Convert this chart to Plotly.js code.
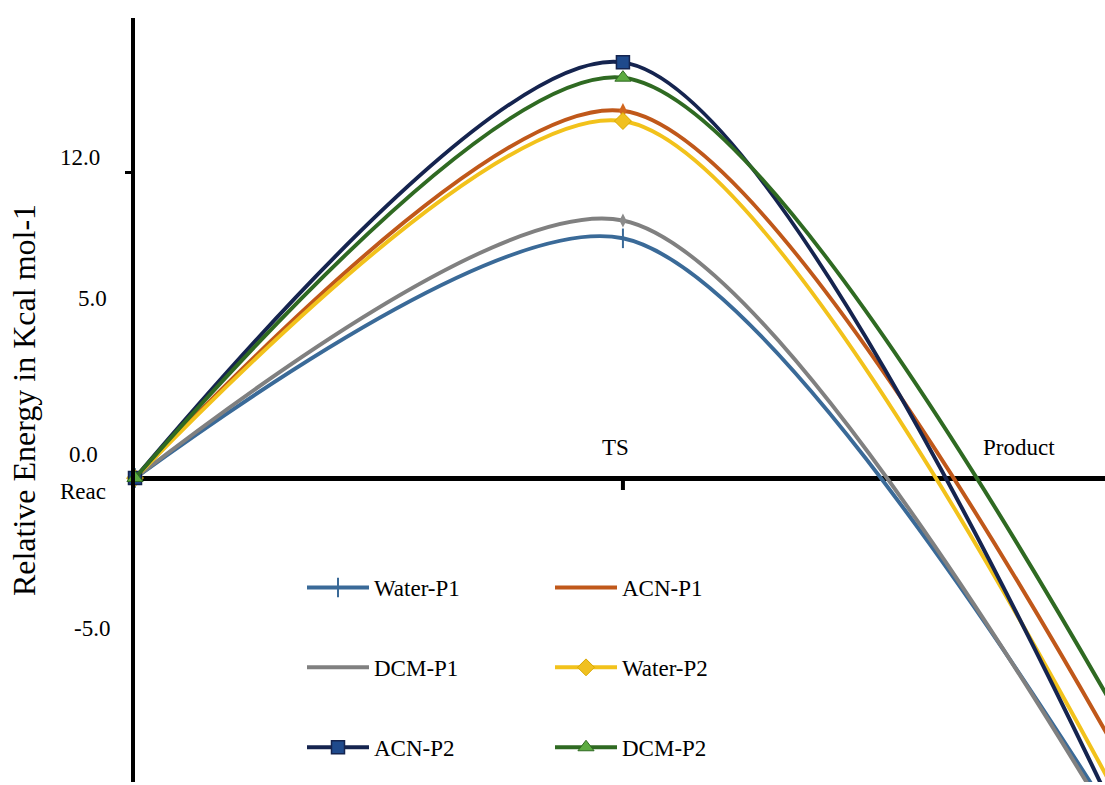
<!DOCTYPE html>
<html>
<head>
<meta charset="utf-8">
<script src="https://cdn.plot.ly/plotly-3.0.1.min.js"></script>
<style>html,body{margin:0;padding:0;background:#fff;}#chart{width:1105px;height:785px;}</style>
</head>
<body>
<div id="chart"></div>
<script>
// Reaction coordinate stages
const stages = ['Reac', 'TS', 'Product'];
const stageX = [0, 1, 2];

// Relative energies (Kcal mol-1)
const waterP1 = [0, 9.4, -13.2];
const acnP1   = [0, 14.4, -10.3];
const dcmP1   = [0, 10.1, -13.5];
const waterP2 = [0, 14.0, -12.0];
const acnP2   = [0, 16.3, -12.8];
const dcmP2   = [0, 15.7, -8.8];

// Y tick labels
const yTickLabels = ['12.0', '5.0', '0.0', '-5.0'];

const FONT = 'Liberation Serif';
const W = 1105, H = 785;
const M = {l: 135, r: 0, t: 18, b: 3};
const PW = W - M.l - M.r, PH = H - M.t - M.b;
const px2x = p => (p - M.l) / PW;
const px2y = p => (H - M.b - p) / PH;

const SM = 0.8;
function lineTrace(name, y, color, legend, mode, marker) {
  const t = {
    type: 'scatter', x: stageX, y: y, name: name, mode: mode,
    line: {color: color, width: 4, shape: 'spline', smoothing: SM},
    legend: legend, legendgroup: name, cliponaxis: false,
    hovertext: stages
  };
  if (marker) t.marker = marker;
  return t;
}
function markerTrace(name, y, marker) {
  return {type: 'scatter', x: stageX, y: y, name: name, mode: 'markers',
    marker: marker, showlegend: false, legendgroup: name, cliponaxis: false, hovertext: stages};
}

const traces = [
  lineTrace('Water-P1', waterP1, '#3a6a98', 'legend', 'lines+markers',
    {symbol: 'line-ns-open', size: 14, color: '#3a6a98', line: {width: 2, color: '#3a6a98'}}),
  lineTrace('ACN-P1', acnP1, '#c0581a', 'legend2', 'lines'),
  markerTrace('ACN-P1', acnP1, {symbol: 'diamond-tall', size: 11, color: '#d2661e'}),
  lineTrace('DCM-P1', dcmP1, '#808080', 'legend', 'lines'),
  markerTrace('DCM-P1', dcmP1, {symbol: 'diamond-tall', size: 10, color: '#8a8a8a'}),
  lineTrace('Water-P2', waterP2, '#f2c21b', 'legend2', 'lines+markers',
    {symbol: 'diamond', size: 13, color: '#f0c020', line: {width: 1, color: '#d9a800'}}),
  lineTrace('ACN-P2', acnP2, '#15244f', 'legend', 'lines+markers',
    {symbol: 'square', size: 13, color: '#1f4a8c', line: {width: 1.5, color: '#15244f'}}),
  lineTrace('DCM-P2', dcmP2, '#2f6a22', 'legend2', 'lines+markers',
    {symbol: 'triangle-up', size: 14, color: '#5cab40', line: {width: 1, color: '#2f6a22'}})
];

const labelPos = [[80, 157], [92, 298], [83, 455], [92, 628]];
const annotations = yTickLabels.map((t, i) => ({
  text: t, xref: 'paper', yref: 'paper', x: px2x(labelPos[i][0]), y: px2y(labelPos[i][1]),
  xanchor: 'center', yanchor: 'middle', showarrow: false, font: {family: FONT, size: 23, color: '#000'}
}));
const stagePos = [[83, 492], [615, 447], [1019, 447]];
stages.forEach((s, i) => annotations.push({
  text: s, xref: 'paper', yref: 'paper', x: px2x(stagePos[i][0]), y: px2y(stagePos[i][1]),
  xanchor: 'center', yanchor: 'middle', showarrow: false, font: {family: FONT, size: 23, color: '#000'}
}));

const legendCommon = {
  orientation: 'v', bgcolor: 'rgba(0,0,0,0)', borderwidth: 0,
  font: {family: FONT, size: 23, color: '#000'}, tracegroupgap: 47,
  xanchor: 'left', yanchor: 'top', itemwidth: 62, traceorder: 'grouped'
};

const layout = {
  width: W, height: H,
  margin: M,
  paper_bgcolor: '#fff', plot_bgcolor: '#fff',
  font: {family: FONT, size: 23, color: '#000'},
  showlegend: true,
  legend: Object.assign({}, legendCommon, {x: px2x(302), y: px2y(566)}),
  legend2: Object.assign({}, legendCommon, {x: px2x(550), y: px2y(566)}),
  xaxis: {
    range: [0, 1.988], showgrid: false, zeroline: false, showline: false,
    showticklabels: false, ticks: ''
  },
  yaxis: {
    range: [-11.92, 18.04], showgrid: false,
    zeroline: true, zerolinecolor: '#000', zerolinewidth: 5,
    showline: true, linecolor: '#000', linewidth: 4,
    ticks: 'outside', tickvals: [12], ticklen: 6, tickwidth: 3, tickcolor: '#000',
    showticklabels: false,
    title: {text: 'Relative Energy in Kcal mol-1', font: {family: FONT, size: 32, color: '#000'}, standoff: 81}
  },
  shapes: [{
    type: 'line', xref: 'x', x0: 1, x1: 1, yref: 'y', ysizemode: 'pixel', yanchor: 0,
    y0: 0, y1: -12, line: {color: '#000', width: 4}
  }],
  annotations: annotations
};

Plotly.newPlot('chart', traces, layout, {displayModeBar: false, staticPlot: true});
</script>
</body>
</html>
